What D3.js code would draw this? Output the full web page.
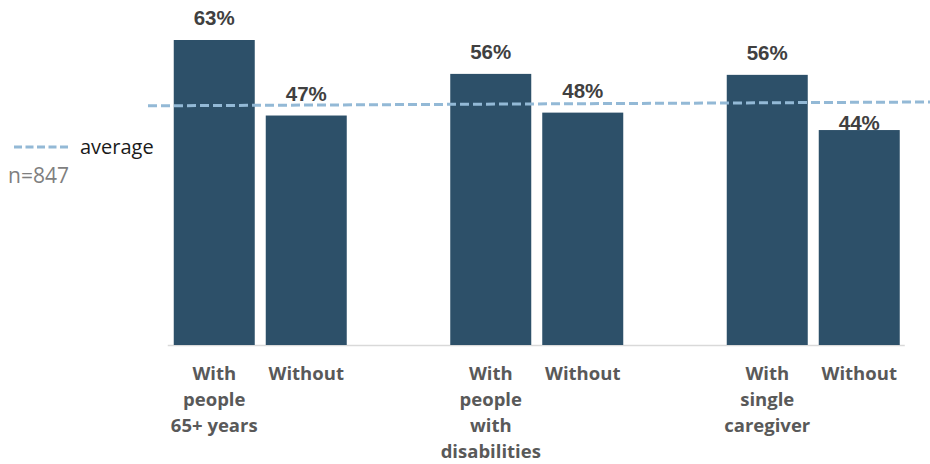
<!DOCTYPE html>
<html>
<head>
<meta charset="utf-8">
<script src="https://cdn.jsdelivr.net/npm/d3@7"></script>
<style>
  body { margin: 0; background: #fff; }
  .cat-label { font-family: "Open Sans", "Noto Sans", sans-serif; font-weight: 700; font-size: 18.5px; fill: #595959; }
  .val-label { font-family: "Liberation Sans", Arial, sans-serif; font-weight: 700; font-size: 20.5px; fill: #404040; }
</style>
</head>
<body>
<div id="vis"></div>
<script>
// chart data
const groups = ['65+', 'disabilities', 'caregiver'];
const subgroups = ['with', 'without'];
const values = [63.0, 47.4, 56.0, 48.0, 55.8, 44.4];
const valueLabels = ['63%', '47%', '56%', '48%', '56%', '44%'];
const categoryLabels = [
    ['With', 'people', '65+ years'], ['Without'],
    ['With', 'people', 'with', 'disabilities'], ['Without'],
    ['With', 'single', 'caregiver'], ['Without']
];
const average = [49.4, 50.2]; // value at left end, value at right end of the dashed line
const sampleNote = 'n=847';
const legendText = 'average';

const width = 930, height = 464;
const baseline = 345;

const svg = d3.select('#vis')
    .append('svg')
    .attr('width', width)
    .attr('height', height);

// scales
const yScale = d3.scaleLinear()
    .domain([0, 63])
    .range([baseline, 40]);

const x0 = d3.scaleBand()
    .domain(groups)
    .range([122, 951.5])
    .padding(0);

const x1 = d3.scaleBand()
    .domain(subgroups)
    .range([51.75, 224.75])
    .paddingInner(0.1196)
    .paddingOuter(0);

const bars = values.map((v, i) => ({
    value: v,
    label: valueLabels[i],
    cat: categoryLabels[i],
    group: groups[Math.floor(i / 2)],
    sub: subgroups[i % 2]
}));
const barX = d => x0(d.group) + x1(d.sub);
const barCx = d => barX(d) + x1.bandwidth() / 2;

// baseline
const firstX = barX(bars[0]);
const lastX = barX(bars[bars.length - 1]) + x1.bandwidth();
svg.append('line')
    .attr('x1', firstX - 6)
    .attr('x2', lastX + 5)
    .attr('y1', baseline + 0.5)
    .attr('y2', baseline + 0.5)
    .attr('stroke', '#d9d9d9')
    .attr('stroke-width', 1.5);

// bars
svg.selectAll('rect.bar')
    .data(bars)
    .enter()
    .append('rect')
    .attr('class', 'bar')
    .attr('x', barX)
    .attr('y', d => yScale(d.value))
    .attr('width', x1.bandwidth())
    .attr('height', d => baseline - yScale(d.value))
    .attr('fill', '#2d5069');

// average line (slightly sloped, as in the original)
const avgX = [148, width];
const avgLine = d3.scaleLinear().domain(avgX).range([yScale(average[0]), yScale(average[1])]);
svg.append('line')
    .attr('x1', avgX[0])
    .attr('x2', avgX[1])
    .attr('y1', avgLine(avgX[0]))
    .attr('y2', avgLine(avgX[1]))
    .attr('stroke', '#93b9d6')
    .attr('stroke-width', 3)
    .attr('stroke-dasharray', '9 4');

// value labels; pushed below the average line when they would cross it
svg.selectAll('text.val-label')
    .data(bars)
    .enter()
    .append('text')
    .attr('class', 'val-label')
    .attr('text-anchor', 'middle')
    .attr('x', barCx)
    .attr('y', d => {
        let yb = yScale(d.value) - 15;
        const ly = avgLine(barCx(d));
        if (ly > yb - 16 && ly < yb + 3) yb = ly + 28;
        return yb;
    })
    .text(d => d.label);

// category labels
const cats = svg.selectAll('text.cat-label')
    .data(bars)
    .enter()
    .append('text')
    .attr('class', 'cat-label')
    .attr('text-anchor', 'middle')
    .attr('x', barCx)
    .attr('y', 380);
cats.selectAll('tspan')
    .data(d => d.cat.map(t => ({t, x: barCx(d)})))
    .enter()
    .append('tspan')
    .attr('x', d => d.x)
    .attr('dy', (d, i) => i === 0 ? 0 : 26)
    .text(d => d.t);

// legend
svg.append('line')
    .attr('x1', 14)
    .attr('x2', 68)
    .attr('y1', 147)
    .attr('y2', 147)
    .attr('stroke', '#93b9d6')
    .attr('stroke-width', 3)
    .attr('stroke-dasharray', '8 3.5');
svg.append('text')
    .attr('x', 80)
    .attr('y', 154)
    .style('font-family', '"Open Sans", "Noto Sans", sans-serif')
    .style('font-size', '20px')
    .style('fill', '#1a1a1a')
    .text(legendText);
svg.append('text')
    .attr('x', 8)
    .attr('y', 183)
    .style('font-family', '"Open Sans", "Noto Sans", sans-serif')
    .style('font-size', '21px')
    .style('fill', '#7f7f7f')
    .text(sampleNote);
</script>
</body>
</html>
